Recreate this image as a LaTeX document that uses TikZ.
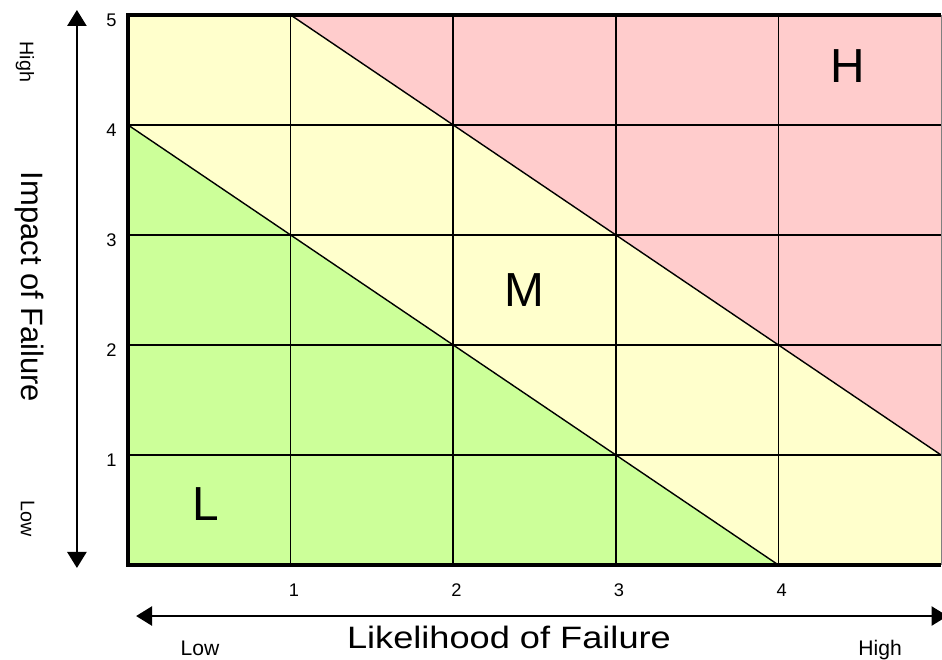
\documentclass[tikz,border=0pt]{standalone}
\usepackage{fontspec}
\setmainfont{Liberation Sans}
\usetikzlibrary{arrows.meta}

\definecolor{lowgreen}{HTML}{CCFF99}
\definecolor{midyellow}{HTML}{FFFFCC}
\definecolor{highred}{HTML}{FFCCCC}

\tikzset{
  gridline/.style={black,line width=1pt},
  frameline/.style={black,line width=2.8pt},
  axisarrow/.style={line width=1.4pt,{Triangle[width=0.48cm,length=0.4cm]}-{Triangle[width=0.48cm,length=0.4cm]}},
  zone/.style={font=\fontsize{34}{40}\selectfont},
  tick/.style={font=\fontsize{13}{15}\selectfont},
  axislabel/.style={font=\fontsize{22}{26}\selectfont},
  endlabel/.style={font=\fontsize{15}{18}\selectfont},
}

\begin{document}
\begin{tikzpicture}[x=4.065cm,y=2.75cm]
\useasboundingbox (-0.787,-0.855) rectangle (5.006,5.136);

% zones
\fill[midyellow] (0,0) rectangle (5,5);
\fill[lowgreen] (0,0) -- (0,4) -- (4,0) -- cycle;
\fill[highred] (1,5) -- (5,5) -- (5,1) -- cycle;

% grid
\foreach \i in {1,...,4} {
  \draw[gridline] (\i,0) -- (\i,5);
  \draw[gridline] (0,\i) -- (5,\i);
}
\draw[gridline] (0,4) -- (4,0);
\draw[gridline] (1,5) -- (5,1);
\draw[gray,line width=0.7pt] (5,0) -- (5,5);
\draw[frameline] (5,5) -- (0,5) -- (0,0) -- (5,0);

% zone letters
\node[zone] (hzone) at (4.428,4.536) {H};
\node[zone] (mzone) at (2.435,2.5) {M};
\node[zone] (lzone) at (0.480,0.55) {L};

% tick numbers
\foreach \i in {1,...,5}
  \node[tick,anchor=east] (y\i) at (-0.04,\i-0.05) {\i};
\foreach \i in {1,...,4}
  \node[tick] (x\i) at (\i+0.02,-0.23) {\i};

% axes
\coordinate (ybot) at (-0.314,-0.027);
\coordinate (ytop) at (-0.314,5.045);
\draw[axisarrow] (ybot) -- (ytop);
\coordinate (xleft) at (0.05,-0.464);
\coordinate (xright) at (5.04,-0.464);
\draw[axisarrow] (xleft) -- (xright);

% axis labels
\node[axislabel,rotate=-90] (impact) at (-0.603,2.527) {Impact of Failure};
\node[font=\fontsize{14}{16}\selectfont,rotate=-90] (ihigh) at (-0.633,4.573) {High};
\node[font=\fontsize{14}{16}\selectfont,rotate=-90] (ilow) at (-0.618,0.418) {Low};
\node[axislabel,anchor=base] (likely) at (2.343,-0.755) {\scalebox{1.17}[1]{Likelihood of Failure}};
\node[endlabel,anchor=base] (llow) at (0.443,-0.823) {Low};
\node[endlabel,anchor=base] (lhigh) at (4.625,-0.823) {High};

\end{tikzpicture}
\end{document}
